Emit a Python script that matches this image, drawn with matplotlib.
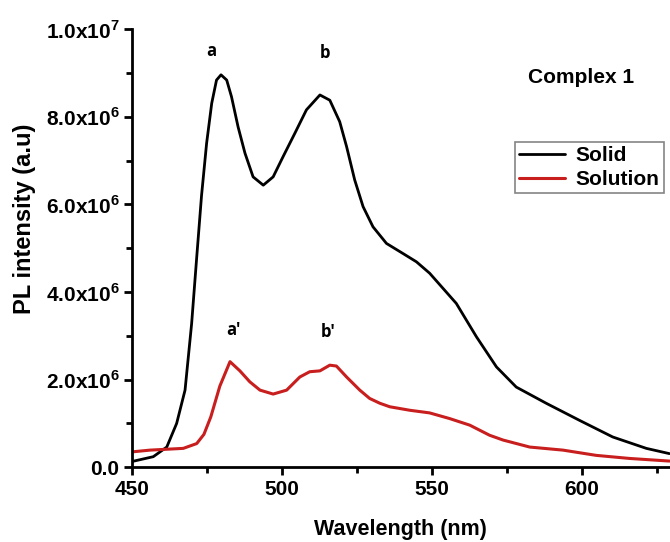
import matplotlib
matplotlib.use("Agg")
import matplotlib.pyplot as plt
from matplotlib.ticker import FuncFormatter, MultipleLocator

plt.rcParams['font.family'] = ['Liberation Sans', 'DejaVu Sans']
plt.rcParams['mathtext.fontset'] = 'custom'
plt.rcParams['mathtext.rm'] = 'Liberation Sans:bold'
plt.rcParams['mathtext.bf'] = 'Liberation Sans:bold'

# Solid (black)
solid_nm = [450, 457.1, 461.6, 464.9, 467.7, 469.9, 471.6, 473.2, 474.9, 476.6, 478.2,
            479.7, 481.6, 483.2, 485.4, 487.7, 490.4, 493.8, 497.1, 500.4, 504.3, 508.2,
            512.7, 516, 519.3, 521.6, 524.3, 527.1, 530.4, 534.9, 540.4, 544.9, 549.3,
            558.2, 564.9, 571.6, 578.2, 588.2, 599.3, 610.4, 621.6, 629.3]
solid_val = [0.13e6, 0.24e6, 0.46e6, 1.0e6, 1.76e6, 3.28e6, 4.8e6, 6.2e6, 7.4e6, 8.31e6, 8.84e6,
             8.96e6, 8.84e6, 8.46e6, 7.77e6, 7.17e6, 6.63e6, 6.44e6, 6.63e6, 7.09e6, 7.62e6, 8.16e6,
             8.5e6, 8.38e6, 7.89e6, 7.32e6, 6.56e6, 5.95e6, 5.49e6, 5.11e6, 4.88e6, 4.69e6, 4.43e6,
             3.74e6, 2.98e6, 2.29e6, 1.83e6, 1.46e6, 1.07e6, 0.69e6, 0.43e6, 0.31e6]

# Solution (red)
sol_nm = [450, 456, 467.1, 471.6, 474, 476.3, 479.3, 482.7, 486, 489.3, 492.7, 497.1,
          501.6, 506, 509.3, 512.7, 516, 518.2, 521.6, 526, 529.3, 532.7, 536, 542.7,
          549.3, 556, 562.7, 569.3, 573.8, 582.7, 593.8, 604.9, 616, 629.3]
sol_val = [0.35e6, 0.39e6, 0.43e6, 0.54e6, 0.75e6, 1.15e6, 1.85e6, 2.41e6, 2.2e6, 1.95e6,
           1.76e6, 1.67e6, 1.76e6, 2.06e6, 2.18e6, 2.2e6, 2.33e6, 2.31e6, 2.06e6, 1.76e6,
           1.57e6, 1.46e6, 1.38e6, 1.30e6, 1.24e6, 1.11e6, 0.96e6, 0.73e6, 0.62e6, 0.46e6,
           0.39e6, 0.27e6, 0.20e6, 0.14e6]

peak_labels = ["a", "b", "a'", "b'"]
peak_label_x = [476.6, 514.3, 483.8, 515.4]
peak_label_y = [9.51e6, 9.46e6, 3.13e6, 3.09e6]

fig = plt.figure(figsize=(6.7, 5.42), dpi=100)
ax = fig.add_axes([0.197, 0.138, 0.803, 0.808])

ax.plot(solid_nm, solid_val, color='black', lw=2.0, label='Solid',
        solid_joinstyle='round', solid_capstyle='round')
ax.plot(sol_nm, sol_val, color='#c81e1e', lw=2.2, label='Solution',
        solid_joinstyle='round', solid_capstyle='round')

for t, x, y in zip(peak_labels, peak_label_x, peak_label_y):
    ax.text(x, y, t, ha='center', va='center', fontsize=12, fontweight='bold',
            family=['Open Sans', 'DejaVu Sans'])

ax.text(599.9, 8.9e6, 'Complex 1', ha='center', va='center', fontsize=15, fontweight='bold')

ax.set_xlim(450, 629.5)
ax.set_ylim(0, 1.0e7)
ax.xaxis.set_major_locator(MultipleLocator(50))
ax.xaxis.set_minor_locator(MultipleLocator(25))
ax.yaxis.set_major_locator(MultipleLocator(2e6))
ax.yaxis.set_minor_locator(MultipleLocator(1e6))


def yfmt(v, pos):
    if v == 0:
        return '0.0'
    e = 0
    m = v
    while m >= 10:
        m /= 10
        e += 1
    return '%.1fx10$^{%d}$' % (m, e)


ax.yaxis.set_major_formatter(FuncFormatter(yfmt))

for s in ['top', 'right']:
    ax.spines[s].set_visible(False)
for s in ['left', 'bottom']:
    ax.spines[s].set_linewidth(2.0)

ax.tick_params(which='major', direction='out', length=6, width=2.0, labelsize=15, pad=3)
ax.tick_params(which='minor', direction='out', length=4, width=2.0)
for lbl in ax.get_xticklabels() + ax.get_yticklabels():
    lbl.set_fontweight('bold')

fig.text(400 / 670, 1 - 529 / 542, 'Wavelength (nm)', fontsize=15.5, fontweight='bold',
         ha='center', va='center')
fig.text(25 / 670, 1 - 219 / 542, 'PL intensity (a.u)', fontsize=17, fontweight='bold',
         ha='center', va='center', rotation=90)

leg = ax.legend(loc='upper left', bbox_to_anchor=(0.712, 0.742), frameon=True, fancybox=False,
                prop={'weight': 'bold', 'size': 15}, handlelength=2.2, borderpad=0.2,
                labelspacing=0.22, handletextpad=0.5, borderaxespad=0)
leg.get_frame().set_edgecolor('#666666')
leg.get_frame().set_linewidth(1.2)

fig.savefig('out.png', dpi=100)
